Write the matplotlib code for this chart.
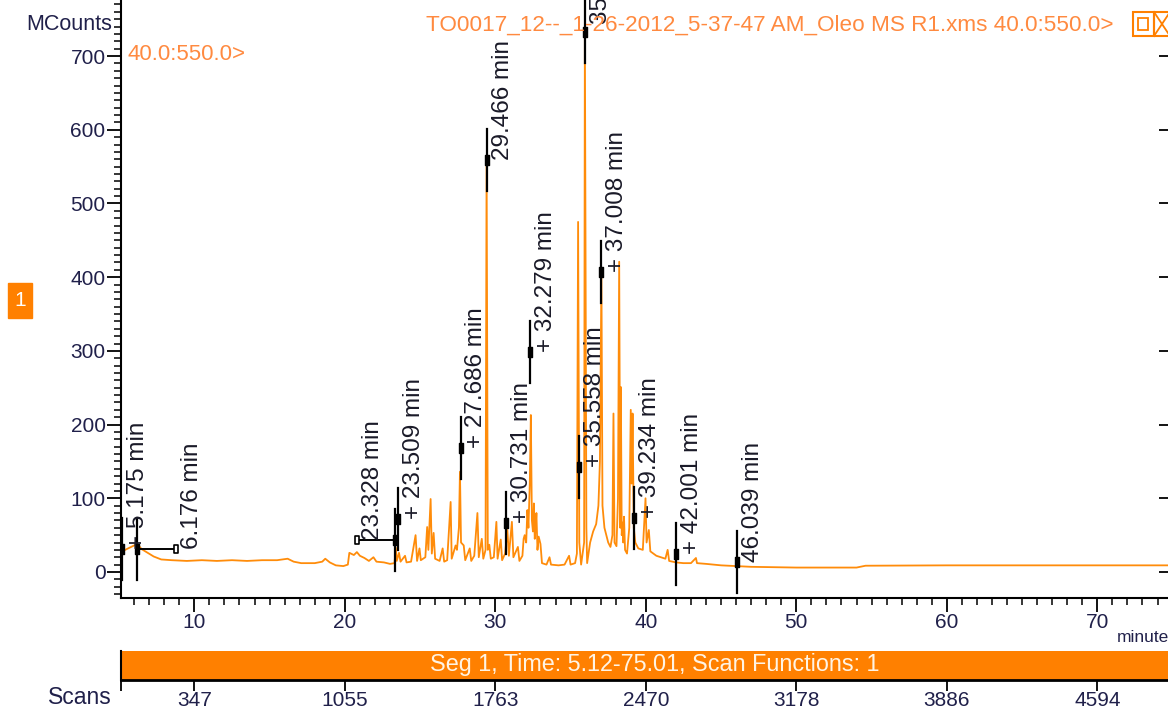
import matplotlib.pyplot as plt
from matplotlib.patches import Rectangle
from matplotlib.lines import Line2D
from matplotlib.path import Path
from matplotlib.ticker import MultipleLocator, FixedLocator

plt.rcParams['font.family'] = ['Liberation Sans', 'DejaVu Sans']

# TIC trace: retention time (minutes) and intensity (MCounts)
tic_time = [5.12, 5.5, 5.9, 6.2, 6.5, 6.9, 7.3, 7.8, 8.5, 9.5, 10.5, 11.5, 12.5, 13.5,
            14.5, 15.5, 16.2, 16.6, 17.1, 18.0, 18.5, 18.7, 19.0, 19.4, 19.9, 20.2,
            20.3, 20.6, 20.8, 21.0, 21.3, 21.6, 21.9, 22.1, 22.6, 23.0, 23.3, 23.39,
            23.45, 23.6, 23.7, 24.0, 24.1, 24.4, 24.7, 24.8, 24.96, 25.05, 25.35, 25.47,
            25.55, 25.7, 25.78, 25.9, 26.0, 26.3, 26.5, 26.6, 26.8, 27.03, 27.1, 27.36,
            27.45, 27.58, 27.65, 27.72, 27.9, 28.0, 28.3, 28.4, 28.6, 28.81, 28.9, 29.1,
            29.2, 29.35, 29.42, 29.5, 29.6, 29.7, 29.9, 30.07, 30.15, 30.36, 30.45,
            30.65, 30.8, 30.9, 31.1, 31.2, 31.5, 31.6, 31.8, 31.88, 31.95, 32.05, 32.13,
            32.2, 32.29, 32.36, 32.43, 32.5, 32.56, 32.62, 32.68, 32.73, 32.8, 32.88,
            33.0, 33.1, 33.4, 33.6, 33.7, 34.2, 34.6, 34.9, 35.0, 35.3, 35.42, 35.5,
            35.58, 35.7, 35.9, 35.95, 36.05, 36.1, 36.3, 36.5, 36.7, 36.85, 36.95,
            37.05, 37.12, 37.25, 37.5, 37.65, 37.78, 37.85, 37.92, 38.05, 38.15, 38.23,
            38.3, 38.34, 38.4, 38.45, 38.5, 38.55, 38.62, 38.75, 38.9, 39.0, 39.06,
            39.12, 39.2, 39.3, 39.5, 39.8, 39.98, 40.05, 40.2, 40.3, 40.7, 41.0, 41.3,
            41.45, 41.55, 42.0, 42.5, 43.0, 43.33, 43.4, 44.0, 45.0, 46.0, 47.0, 50.0,
            54.0, 54.6, 60.0, 65.0, 70.0, 75.01]
tic_counts = [27, 31, 35, 38, 31, 26, 21, 17, 16, 15, 16, 15, 16, 15,
              16, 16, 18, 14, 12, 12, 14, 18, 13, 9, 8, 10,
              26, 23, 27, 22, 19, 15, 20, 14, 13, 11, 12, 33,
              15, 26, 14, 22, 13, 14, 50, 15, 32, 16, 20, 61,
              30, 99, 25, 53, 18, 15, 32, 14, 16, 95, 18, 36,
              30, 60, 136, 40, 36, 16, 32, 15, 22, 80, 20, 45,
              18, 30, 560, 30, 37, 18, 20, 68, 18, 44, 16,
              25, 57, 22, 68, 20, 34, 15, 22, 45, 50, 40, 84,
              60, 120, 213, 70, 55, 93, 45, 62, 80, 30, 48,
              38, 12, 10, 20, 10, 9, 10, 22, 10, 12, 25, 475,
              40, 10, 40, 735, 60, 12, 40, 55, 65, 90, 150,
              405, 90, 60, 40, 34, 50, 215, 40, 35, 100, 421,
              60, 251, 50, 67, 40, 75, 30, 25, 60, 220, 120,
              215, 60, 40, 32, 30, 100, 40, 57, 28, 22, 20, 18,
              30, 15, 13, 12, 12, 19, 12, 11, 9, 8, 7, 6,
              6, 8.5, 9, 9, 9, 9]

# integrated peaks: retention time and marker level
peak_time = [5.175, 6.176, 23.328, 23.509, 27.686, 29.466, 30.731, 32.279,
             35.558, 35.963, 37.008, 39.234, 42.001, 46.039]
peak_level = [31, 31, 43, 72, 168, 559, 66, 299, 142, 733, 407, 73, 24, 14]
peak_label = ['+ 5.175 min', '6.176 min', '23.328 min', '+ 23.509 min', '+ 27.686 min',
              '29.466 min', '+ 30.731 min', '+ 32.279 min', '+ 35.558 min',
              '35.963 min', '+ 37.008 min', '+ 39.234 min', '+ 42.001 min',
              '46.039 min']
label_level = [31, 31, 43, 72, 168, 559, 66, 299, 142, 744, 407, 73, 24, 14]

# peaks whose label hangs off a width bracket
bracket_peak = [6.176, 23.328]
bracket_end = [8.8, 20.78]

minute_ticks = [10, 20, 30, 40, 50, 60, 70]
scan_labels = ['347', '1055', '1763', '2470', '3178', '3886', '4594']

title = 'TO0017_12--_1-26-2012_5-37-47 AM_Oleo MS R1.xms 40.0:550.0>'
seg_text = 'Seg 1, Time: 5.12-75.01, Scan Functions: 1'

orange = '#FF8000'
trace = '#FF8C0A'
pale = '#FF8A40'
navy = '#20204A'

W, H = 1168, 720
fig = plt.figure(figsize=(W / 100, H / 100), dpi=100)


def fx(px):
    return px / W


def fy(py):
    return 1 - py / H


x0, x1 = 120.9, 1172.7
ax = fig.add_axes([fx(x0), fy(598), (x1 - x0) / W, 598 / H])
ax.plot(tic_time, tic_counts, color=trace, lw=1.3, zorder=2)
ax.set_xlim(5.12, 75.01)
ax.set_ylim(-35.3, 776.1)

for s in ['top', 'right']:
    ax.spines[s].set_visible(False)
for s in ['left', 'bottom']:
    ax.spines[s].set_linewidth(1.5)

ax.xaxis.set_major_locator(FixedLocator(minute_ticks))
ax.xaxis.set_minor_locator(MultipleLocator(1))
ax.yaxis.set_major_locator(MultipleLocator(100))
ax.yaxis.set_minor_locator(MultipleLocator(10))
ax.tick_params(which='major', length=10, width=1.3, pad=1, labelsize=15,
               labelcolor=navy, direction='out')
ax.tick_params(which='minor', length=5, width=1.1, direction='out')
ax.set_yticks(range(0, 701, 100))

# inner ticks on the right edge
axr = ax.twinx()
axr.set_ylim(ax.get_ylim())
axr.set_yticks(range(0, 701, 100))
axr.tick_params(axis='y', direction='in', length=10, width=1.3, labelright=False)
for s in axr.spines.values():
    s.set_visible(False)

# peak markers
box = Path([(-0.55, -1), (0.55, -1), (0.55, 1), (-0.55, 1), (-0.55, -1)],
           [Path.MOVETO, Path.LINETO, Path.LINETO, Path.LINETO, Path.CLOSEPOLY])
for t, lv in zip(peak_time, peak_level):
    ax.plot([t, t], [lv - 42, lv + 42], color='black', lw=1.6, zorder=3)
    ax.plot(t, lv, marker=box, ms=6.5, color='black', zorder=4)

for t, te in zip(bracket_peak, bracket_end):
    lv = peak_level[peak_time.index(t)]
    ax.plot([t, te], [lv, lv], color='black', lw=1.4, zorder=3)
    ax.plot(te, lv, marker=box, ms=6, mfc='white', mec='black', mew=1.2, zorder=4)

for t, lv, txt in zip(peak_time, label_level, peak_label):
    anchor = t
    if t in bracket_peak:
        anchor = bracket_end[bracket_peak.index(t)]
    ax.annotate(txt, xy=(anchor, lv), xytext=(11.5, 0), textcoords='offset points',
                rotation=90, ha='center', va='bottom', fontsize=17.5,
                color='#1a1a28', annotation_clip=False, zorder=5)

# segment bar with scan numbers
axb = fig.add_axes([fx(x0), fy(680), (x1 - x0) / W, 29 / H])
axb.set_facecolor(orange)
axb.set_xlim(5.12, 75.01)
axb.set_ylim(0, 1)
axb.set_yticks([])
axb.set_xticks([5.12] + minute_ticks)
axb.set_xticklabels([''] + scan_labels)
axb.tick_params(axis='x', direction='out', length=8, width=1.3, pad=0,
                labelsize=15, labelcolor=navy)
axb.spines['top'].set_visible(False)
axb.spines['right'].set_visible(False)
axb.spines['bottom'].set_linewidth(2)
axb.spines['left'].set_linewidth(1.5)
fig.text(fx(655), fy(665), seg_text, ha='center', va='center',
         color='#FFF4E4', fontsize=16.8)

fig.text(fx(112), fy(697), 'Scans', ha='right', va='center', fontsize=16.5, color=navy)
fig.text(fx(1117), fy(637), 'minutes', ha='left', va='center', fontsize=12.5, color=navy)
fig.text(fx(112), fy(25), 'MCounts', ha='right', va='center', fontsize=15.5, color=navy)
fig.text(fx(128), fy(55), '40.0:550.0>', ha='left', va='center', fontsize=16, color=pale)
fig.text(fx(1113), fy(25), title, ha='right', va='center', fontsize=16.2, color=pale)

# trace number tag
fig.patches.append(Rectangle((fx(8), fy(318)), 24 / W, 35 / H, transform=fig.transFigure,
                             color=orange))
fig.text(fx(20), fy(300), '1', ha='center', va='center', fontsize=15, color='white')

# window buttons
fig.patches.append(Rectangle((fx(1133), fy(36)), 21 / W, 24 / H, transform=fig.transFigure,
                             fill=False, ec=orange, lw=1.5))
fig.patches.append(Rectangle((fx(1154), fy(36)), 16 / W, 24 / H, transform=fig.transFigure,
                             fill=False, ec=orange, lw=1.5))
fig.patches.append(Rectangle((fx(1138), fy(30)), 10 / W, 12 / H, transform=fig.transFigure,
                             fill=False, ec=orange, lw=1.3))
fig.lines.append(Line2D([fx(1154), fx(1170)], [fy(12), fy(36)], transform=fig.transFigure,
                        color=orange, lw=1.3))
fig.lines.append(Line2D([fx(1154), fx(1170)], [fy(36), fy(12)], transform=fig.transFigure,
                        color=orange, lw=1.3))

fig.savefig('out.png', dpi=100)
